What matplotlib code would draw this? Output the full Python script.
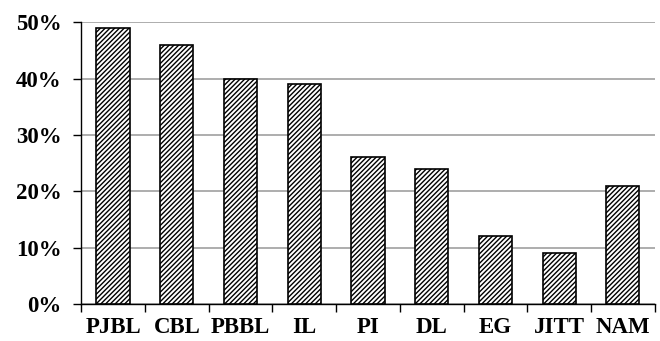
import matplotlib
matplotlib.use("Agg")
import matplotlib.pyplot as plt
import numpy as np

# Share of each method
methods = ["PJBL", "CBL", "PBBL", "IL", "PI", "DL", "EG", "JITT", "NAM"]
shares = [49, 46, 40, 39, 26, 24, 12, 9, 21]
yticks = [0, 10, 20, 30, 40, 50]

plt.rcParams['font.family'] = ['Liberation Serif', 'DejaVu Serif']
plt.rcParams['hatch.linewidth'] = 1.0

fig = plt.figure(figsize=(6.6, 3.41), dpi=100)
ax = fig.add_axes([0.123, 0.1085, 0.869, 0.8265])

x = np.arange(len(methods))
ax.bar(x, shares, width=0.52, color="white", edgecolor="black",
       linewidth=1.2, hatch="///////", zorder=3)

ax.set_xlim(-0.5, len(methods) - 0.5)
ax.set_ylim(0, 50)
ax.set_yticks(yticks)
ax.set_yticklabels([f"{v}%" for v in yticks], fontsize=16.5, fontweight="bold")
ax.yaxis.grid(True, color="#a0a0a0", linewidth=1.2, zorder=0)

ax.set_xticks(x)
ax.set_xticklabels(methods, fontsize=16.5, fontweight="bold")
ax.tick_params(axis="x", length=0, pad=9)
# category boundary ticks
ax.set_xticks(np.arange(-0.5, len(methods), 1), minor=True)
ax.tick_params(axis="x", which="minor", length=6, direction="out", width=1)
ax.tick_params(axis="y", length=6, direction="out", width=1, pad=8)

ax.spines["top"].set_visible(False)
ax.spines["right"].set_visible(False)
ax.spines["left"].set_linewidth(1.0)
ax.spines["bottom"].set_linewidth(1.0)

fig.savefig("out.png", dpi=100)
